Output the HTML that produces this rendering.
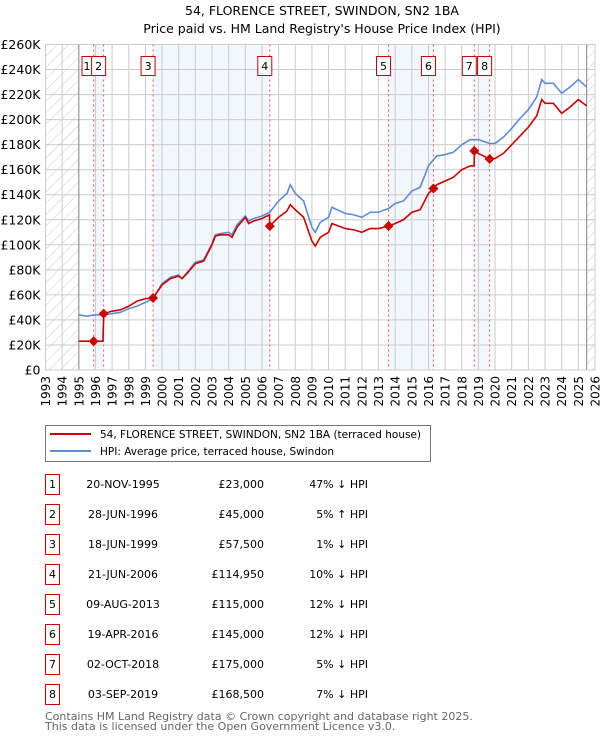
<!DOCTYPE html>
<html><head><meta charset="utf-8">
<style>
body{margin:0;background:#fff;}
svg text{font-family:"DejaVu Sans","Liberation Sans",sans-serif;}
</style></head>
<body>
<svg id="c" width="600" height="740" xmlns="http://www.w3.org/2000/svg">
<defs>
<pattern id="hatch" width="8" height="8" patternUnits="userSpaceOnUse" patternTransform="rotate(45)">
<line x1="0" y1="0" x2="0" y2="8" stroke="#ccc" stroke-width="1"/>
</pattern>
</defs>
<text x="322" y="15" text-anchor="middle" font-size="12.5">54, FLORENCE STREET, SWINDON, SN2 1BA</text>
<text x="322" y="33" text-anchor="middle" font-size="12.5">Price paid vs. HM Land Registry's House Price Index (HPI)</text>
<g id="plot"></g>
<g>
<rect x="45.5" y="425.5" width="385" height="36" fill="#fff" stroke="#777"/>
<line x1="50" y1="434" x2="91" y2="434" stroke="#cc0000" stroke-width="2"/>
<text x="100" y="438" font-size="10.5">54, FLORENCE STREET, SWINDON, SN2 1BA (terraced house)</text>
<line x1="50" y1="451" x2="91" y2="451" stroke="#5b8ed6" stroke-width="2"/>
<text x="100" y="455" font-size="10.5">HPI: Average price, terraced house, Swindon</text>
</g>
<g id="table"></g>
<text x="45" y="720" font-size="11" fill="#666">Contains HM Land Registry data © Crown copyright and database right 2025.</text>
<text x="45" y="730" font-size="11" fill="#666">This data is licensed under the Open Government Licence v3.0.</text>
</svg>
<script>
const years=[1995.0,1995.5,1995.9,1996.45,1996.5,1997.0,1997.5,1998.0,1998.5,1999.0,1999.46,2000.0,2000.5,2001.0,2001.2,2001.5,2002.0,2002.5,2003.0,2003.2,2003.5,2004.0,2004.2,2004.5,2005.0,2005.2,2005.5,2006.0,2006.45,2006.47,2007.0,2007.5,2007.7,2008.0,2008.5,2009.0,2009.2,2009.5,2010.0,2010.2,2011.0,2011.5,2012.0,2012.5,2013.0,2013.6,2014.0,2014.5,2015.0,2015.5,2016.0,2016.3,2016.5,2017.0,2017.5,2018.0,2018.5,2018.74,2018.76,2019.0,2019.67,2020.0,2020.5,2021.0,2021.5,2022.0,2022.5,2022.8,2023.0,2023.5,2024.0,2024.5,2025.0,2025.5];
const hpiValues=[44,43,44,44,44,45,46,49,51,54,57,69,74,76,73,78,86,88,101,108,109,110,108,116,123,119,121,123,126,126,135,141,148,141,135,114,110,118,122,130,125,124,122,126,126,129,133,135,143,146,163,168,171,172,174,180,184,184,184,184,181,181,186,193,201,208,218,232,229,229,221,226,232,226];
const priceValues=[23,23,23,23,45,47,48,51,55,57,57.5,68,73,75,73,77,85,87,100,107,108,108,106,114,122,117,119,121,124,115,122,127,132,128,122,103,99,106,110,117,113,112,110,113,113,115,117,120,126,128,141,145,148,151,154,160,163,163,175,173,168.5,169,173,180,187,194,203,216,213,213,205,210,216,211];
const saleDates=[1995.89,1996.49,1999.46,2006.47,2013.6,2016.3,2018.75,2019.67];
const salePrices=[23,45,57.5,114.95,115,145,175,168.5];
const saleDateLabels=["20-NOV-1995","28-JUN-1996","18-JUN-1999","21-JUN-2006","09-AUG-2013","19-APR-2016","02-OCT-2018","03-SEP-2019"];
const salePriceLabels=["£23,000","£45,000","£57,500","£114,950","£115,000","£145,000","£175,000","£168,500"];
const saleHpiLabels=["47% ↓ HPI","5% ↑ HPI","1% ↓ HPI","10% ↓ HPI","12% ↓ HPI","12% ↓ HPI","5% ↓ HPI","7% ↓ HPI"];
const yTicks=[0,20,40,60,80,100,120,140,160,180,200,220,240,260];
const xTicks=[1993,1994,1995,1996,1997,1998,1999,2000,2001,2002,2003,2004,2005,2006,2007,2008,2009,2010,2011,2012,2013,2014,2015,2016,2017,2018,2019,2020,2021,2022,2023,2024,2025,2026];

const L=45.5,R=595,T=44.5,B=370;
const X=y=>L+(y-1993)/33*(R-L);
const Y=v=>B-v/260*(B-T);
const NS="http://www.w3.org/2000/svg";
const plot=document.getElementById('plot');
function mk(tag,attrs,parent){const e=document.createElementNS(NS,tag);for(const k in attrs)e.setAttribute(k,attrs[k]);(parent||plot).appendChild(e);return e;}

for(let i=0;i<saleDates.length;i+=2){
  const r=mk('rect',{x:X(saleDates[i]),y:T,width:X(saleDates[i+1])-X(saleDates[i]),height:B-T,fill:'#f2f6fd'});
  
  
}
const h1=mk('rect',{x:L,y:T,width:X(1995)-L,height:B-T,fill:'url(#hatch)'});


const h2=mk('rect',{x:X(2025.5),y:T,width:R-X(2025.5),height:B-T,fill:'url(#hatch)'});


yTicks.forEach(v=>{
  const g=mk('line',{x1:L,x2:R,y1:Y(v),y2:Y(v),stroke:'#ccc','stroke-width':1});
  
  
  const t=mk('text',{x:L-5,y:Y(v)+4.5,'text-anchor':'end','font-size':12.5});
  t.textContent=v===0?'£0':'£'+v+'K';
  
  
});
xTicks.forEach(yr=>{
  const g=mk('line',{x1:X(yr),x2:X(yr),y1:T,y2:B,stroke:'#ccc','stroke-width':1});
  
  
  const t=mk('text',{x:0,y:0,'font-size':12,'text-anchor':'end',transform:`translate(${X(yr)+4.5},${B+6}) rotate(-90)`});
  t.textContent=yr;
  
  
});
const b1=mk('line',{x1:X(1995),x2:X(1995),y1:T,y2:B,stroke:'#888'});


const b2=mk('line',{x1:X(2025.5),x2:X(2025.5),y1:T,y2:B,stroke:'#888'});


const fr=mk('rect',{x:L,y:T,width:R-L,height:B-T,fill:'none',stroke:'#ccc'});


saleDates.forEach((d,i)=>{
  const l=mk('line',{x1:X(d),x2:X(d),y1:T,y2:B,stroke:'#ff5555','stroke-width':1,'stroke-dasharray':'2,3'});
  
  
});
const hp=mk('polyline',{points:years.map((y,i)=>X(y)+','+Y(hpiValues[i])).join(' '),fill:'none',stroke:'#5b8ed6','stroke-width':1.6});


const pp=mk('polyline',{points:years.map((y,i)=>X(y)+','+Y(priceValues[i])).join(' '),fill:'none',stroke:'#cc0000','stroke-width':1.6});


saleDates.forEach((d,i)=>{
  const cx=X(d),cy=Y(salePrices[i]);
  const p=mk('polygon',{points:`${cx},${cy-5} ${cx+5},${cy} ${cx},${cy+5} ${cx-5},${cy}`,fill:'#cc0000'});
  
  
  const w=i===0?10:14, bxX=i===0?82:cx-12;
  const bx=mk('rect',{x:bxX,y:56.5,width:w,height:19,fill:'#fff',stroke:'#cc0000'});
  
  
  const t=mk('text',{x:bxX+w/2,y:70,'text-anchor':'middle','font-size':11});
  t.textContent=i+1;
  
  
});
const tbl=document.getElementById('table');
saleDateLabels.forEach((d,i)=>{
  const cy=484+i*30;
  const bx=mk('rect',{x:45.5,y:cy-9.5,width:14,height:20,fill:'#fff',stroke:'#cc0000'},tbl);
  
  
  const n=mk('text',{x:52.5,y:cy+4,'text-anchor':'middle','font-size':11},tbl);
  n.textContent=i+1;
  
  
  const a=mk('text',{x:123,y:cy+4,'text-anchor':'middle','font-size':11},tbl);
  a.textContent=d;
  
  
  const b=mk('text',{x:264,y:cy+4,'text-anchor':'end','font-size':11},tbl);
  b.textContent=salePriceLabels[i];
  
  
  const c=mk('text',{x:368,y:cy+4,'text-anchor':'end','font-size':11},tbl);
  c.textContent=saleHpiLabels[i];
  
  
});
</script>
</body></html>
